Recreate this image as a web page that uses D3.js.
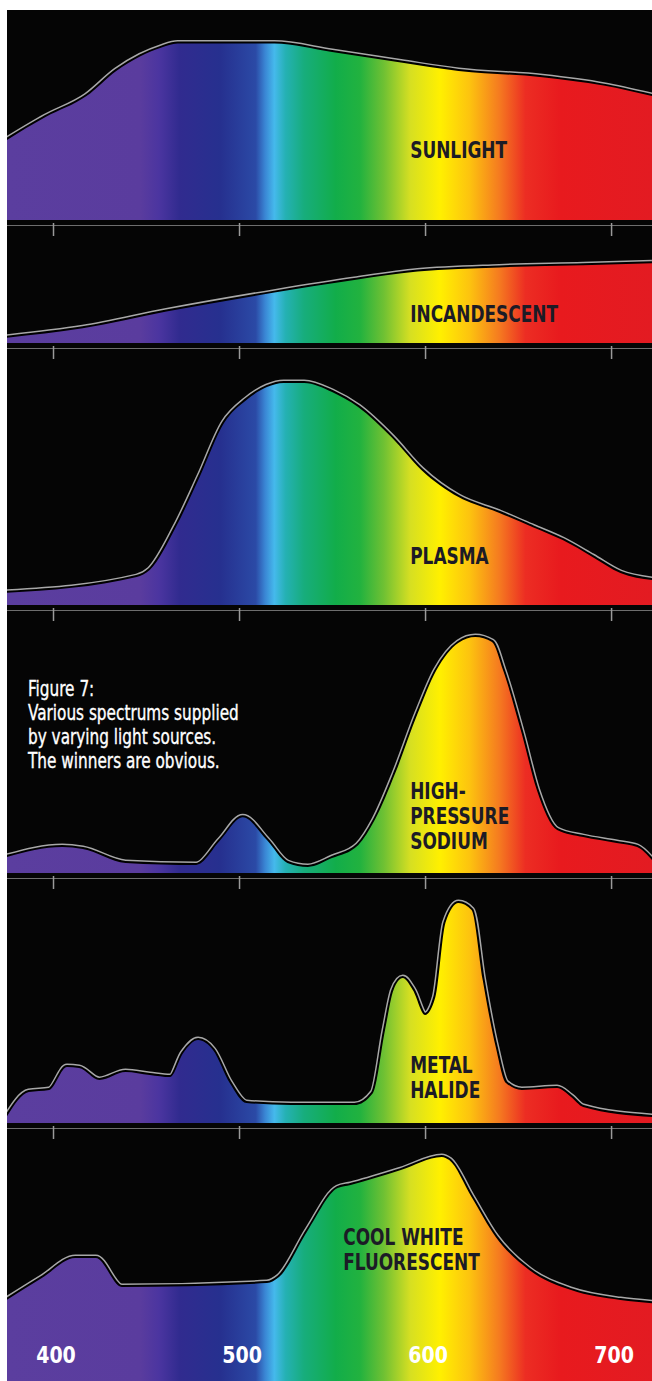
<!DOCTYPE html>
<html><head><meta charset="utf-8">
<script src="https://cdn.jsdelivr.net/npm/d3@7"></script>
<style>
html,body{margin:0;padding:0;background:#fff;}
svg{display:block;}
</style></head><body>
<svg id="chart" width="652" height="1381"></svg>
<script>
// ---------- DATA ----------
const tickLabels = [400, 500, 600, 700];

const sunlightNm  = [375, 396, 418, 434, 447, 458, 467, 519, 550, 587, 618, 663, 696, 722];
const sunlightVal = [38, 49, 59, 71, 78, 82, 84, 84, 80, 75, 71, 68, 64, 59];

const incandescentNm  = [375, 416, 461, 519, 562, 596, 640, 685, 722];
const incandescentVal = [5, 14, 30, 48, 60, 68, 72, 74, 76];

const plasmaNm  = [375, 445, 452, 466, 479, 492, 504, 515, 524, 535, 550, 564, 582, 598, 618, 640, 658, 674, 690, 705, 722];
const plasmaVal = [5, 11.5, 14.4, 32, 53, 75, 84.4, 89.7, 91.4, 91.4, 87.7, 81.5, 69, 55.6, 44.4, 37.9, 32, 26.7, 19.8, 13.2, 10.3];

const sodiumNm  = [375, 405, 416, 439, 477, 490, 502, 515, 526, 537, 550, 564, 573, 584, 596, 606, 618, 627, 636, 642, 652, 660, 671, 685, 703, 714, 722];
const sodiumVal = [6.3, 10.3, 9.5, 4, 3.2, 13, 22, 13, 4, 2.4, 5.9, 11, 21, 39.5, 63, 80, 91, 93.3, 91.3, 80, 55, 33, 17, 14.2, 11.9, 10.3, 5.1];

const halideNm  = [375, 387, 398, 407.5, 414, 425, 439, 452, 463, 470, 478, 486, 495, 504, 528, 562, 572, 578.5, 583, 588, 593.5, 600, 605.5, 611, 618, 625, 631, 638, 643.5, 652, 671, 678.5, 685, 722];
const halideVal = [2.6, 13.3, 14.2, 24, 23.6, 18.5, 21.9, 20.6, 19.7, 30, 35.6, 31.3, 17.2, 8.6, 7.7, 7.7, 12.9, 40, 57, 62.2, 57, 46.4, 54, 86, 94.4, 91.4, 61.4, 32.6, 17.2, 14.2, 15, 11.2, 6.9, 2.6];

const fluorescentNm  = [375, 394, 412, 423, 437, 515, 521.5, 537, 553, 560, 587, 609, 613, 625, 638, 656, 678.5, 705, 722];
const fluorescentVal = [33.3, 42.4, 50.6, 50.6, 38.7, 40.3, 42.8, 62, 79.4, 80.7, 86.8, 92.2, 90.9, 75.7, 59.3, 45.7, 37.4, 33.3, 32];

const sourceLabels = [["SUNLIGHT"], ["INCANDESCENT"], ["PLASMA"], ["HIGH-", "PRESSURE", "SODIUM"], ["METAL", "HALIDE"], ["COOL WHITE", "FLUORESCENT"]];

const spectrumNm    = [375, 447, 457, 468, 490, 509, 514, 519, 525, 535, 552, 565, 578, 592, 608, 624, 640, 654, 673, 722];
const spectrumColor = ["#5b3e9f", "#5a3c9e", "#4b35a0", "#312b8f", "#26308f", "#2b4aa6", "#3a86d4", "#45b9ec", "#25b1b4", "#17ad7c", "#12ad4a", "#22b23f", "#70c133", "#d6df22", "#fff000", "#fdc30f", "#f57a20", "#ec2d23", "#e81a1e", "#e31b22"];

const captionLines = ["Figure 7:", "Various spectrums supplied", "by varying light sources.", "The winners are obvious."];

// ---------- LAYOUT ----------
const W = 652, H = 1381;
const svg = d3.select("#chart");
const x = d3.scaleLinear().domain([375, 722]).range([6.5, 652]);

const series = [
  {nm: sunlightNm, v: sunlightVal},
  {nm: incandescentNm, v: incandescentVal},
  {nm: plasmaNm, v: plasmaVal},
  {nm: sodiumNm, v: sodiumVal},
  {nm: halideNm, v: halideVal},
  {nm: fluorescentNm, v: fluorescentVal}
];
const panels = [
  {top: 10,   base: 220,  labelNm: 592, labelY: 158, lh: 25},
  {top: 238,  base: 343,  labelNm: 592, labelY: 322, lh: 25},
  {top: 362,  base: 605,  labelNm: 592, labelY: 564, lh: 25},
  {top: 620,  base: 873,  labelNm: 592, labelY: 799, lh: 25},
  {top: 890,  base: 1123, labelNm: 592, labelY: 1073, lh: 25},
  {top: 1138, base: 1381, labelNm: 556, labelY: 1245, lh: 25}
];

const defs = svg.append("defs");
const grad = defs.append("linearGradient").attr("id", "spec")
  .attr("gradientUnits", "userSpaceOnUse")
  .attr("x1", 0).attr("x2", W).attr("y1", 0).attr("y2", 0);
grad.selectAll("stop").data(spectrumNm).join("stop")
  .attr("offset", d => x(d) / W)
  .attr("stop-color", (d, i) => spectrumColor[i]);

svg.append("rect").attr("width", W).attr("height", H).attr("fill", "#ffffff");
svg.append("rect").attr("x", 7).attr("y", 10).attr("width", W - 7).attr("height", H - 10).attr("fill", "#050505");

const labelFont = "'DejaVu Sans Condensed', 'DejaVu Sans', sans-serif";

panels.forEach((p, i) => {
  const y = d3.scaleLinear().domain([0, 100]).range([p.base, p.top]);
  const pts = series[i].nm.map((n, k) => ({nm: n, v: series[i].v[k]}));
  const curve = d3.curveMonotoneX;
  const area = d3.area().x(d => x(d.nm)).y0(p.base).y1(d => y(d.v)).curve(curve);
  const line = d3.line().x(d => x(d.nm)).y(d => y(d.v)).curve(curve);

  defs.append("clipPath").attr("id", "clip" + i).append("rect")
    .attr("x", 7).attr("y", p.top - 30).attr("width", W - 7).attr("height", p.base - p.top + 30);
  const g = svg.append("g").attr("clip-path", `url(#clip${i})`);
  g.append("path").attr("d", line(pts)).attr("fill", "none").attr("stroke", "#a8a8a8").attr("stroke-width", 7).attr("stroke-linejoin", "round");
  g.append("path").attr("d", line(pts)).attr("fill", "none").attr("stroke", "#000").attr("stroke-width", 4).attr("stroke-linejoin", "round");
  g.append("path").attr("d", area(pts)).attr("fill", "url(#spec)");

  // source label (condensed)
  const lg = svg.append("g").attr("transform", `translate(${x(p.labelNm)},${p.labelY}) scale(0.82,1)`);
  const t = lg.append("text")
    .attr("font-family", labelFont).attr("font-weight", "bold").attr("font-size", 23)
    .attr("fill", "#1c1b26");
  sourceLabels[i].forEach((s, k) => {
    t.append("tspan").attr("x", 0).attr("y", k * p.lh).text(s);
  });

  // tick row
  if (i < panels.length - 1) {
    const axis = d3.axisBottom(x).tickValues(tickLabels).tickSize(11).tickSizeOuter(0).tickFormat("");
    const ag = svg.append("g").attr("transform", `translate(0,${p.base + 5})`).call(axis);
    ag.select(".domain").attr("stroke", "#6e6e6e").attr("stroke-width", 1);
    ag.selectAll(".tick line").attr("stroke", "#9a9a9a").attr("stroke-width", 1.5).attr("y1", -2);
  }
});

// bottom wavelength labels
svg.append("g").selectAll("g").data(tickLabels).join("g")
  .attr("transform", d => `translate(${x(d) + 3},1363) scale(0.92,1)`)
  .append("text")
  .attr("text-anchor", "middle")
  .attr("font-family", labelFont).attr("font-weight", "bold").attr("font-size", 23)
  .attr("fill", "#ffffff").text(d => d);

// caption
const capG = svg.append("g").attr("transform", "translate(28,696) scale(0.81,1)");
const cap = capG.append("text").attr("font-family", labelFont).attr("font-size", 21)
  .attr("fill", "#ffffff").attr("stroke", "#ffffff").attr("stroke-width", 0.35);
captionLines.forEach((s, k) => {
  cap.append("tspan").attr("x", 0).attr("y", k * 24).text(s);
});
</script>
</body></html>
